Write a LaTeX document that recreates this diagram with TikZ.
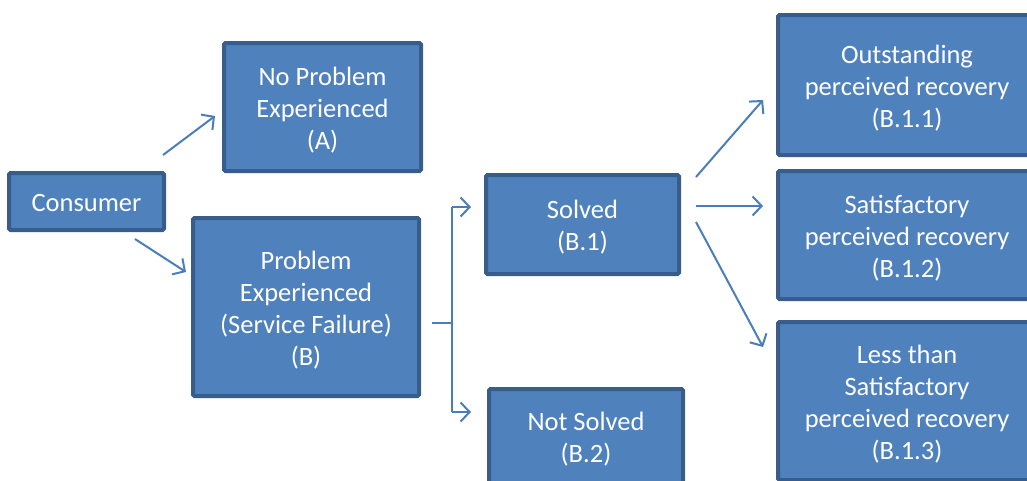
\documentclass[tikz,border=0pt]{standalone}
\usepackage{fontspec}
\setmainfont{Carlito}
\usetikzlibrary{arrows.meta,calc}
\definecolor{boxfill}{HTML}{4F81BD}
\definecolor{boxline}{HTML}{385D8A}
\definecolor{arrowcol}{HTML}{4A7EBB}
\newcommand{\bxtext}[1]{\raisebox{-4pt}[\height][\depth]{\begin{tabular}{@{}c@{}}#1\end{tabular}}}
\tikzset{
  boxnode/.style={draw=boxline, fill=boxfill, line width=4pt, rounded corners=1.5pt,
    text=white, inner sep=0pt,
    font=\fontsize{26.5}{32}\selectfont},
  conn/.style={draw=arrowcol, line width=2pt},
  arr/.style={conn, -{Straight Barb[length=9pt,width=19pt,line width=2pt]}},
}
\begin{document}
\begin{tikzpicture}[x=1pt,y=-1pt]
\useasboundingbox (0,0) rectangle (1027,480);
\clip (0,0) rectangle (1027,480);
\node[boxnode, minimum width=155pt, minimum height=57pt] (cons) at (86.5,201.5) {\bxtext{Consumer}};
\node[boxnode, minimum width=197pt, minimum height=128pt] (nop) at (322.5,107) {\bxtext{No Problem\\Experienced\\(A)}};
\node[boxnode, minimum width=226pt, minimum height=178pt] (prob) at (306,307) {\bxtext{Problem\\Experienced\\(Service Failure)\\(B)}};
\node[boxnode, minimum width=193pt, minimum height=99pt] (solved) at (582.5,224.5) {\bxtext{Solved\\(B.1)}};
\node[boxnode, minimum width=194pt, minimum height=94pt, anchor=west] (nots) at (487,436) {\bxtext{Not Solved\\(B.2)}};
\node[boxnode, minimum width=258pt, minimum height=140pt, anchor=west] (out) at (776,85) {\bxtext{Outstanding\\perceived recovery\\(B.1.1)}};
\node[boxnode, minimum width=258pt, minimum height=128pt, anchor=west] (sat) at (776,235) {\bxtext{Satisfactory\\perceived recovery\\(B.1.2)}};
\node[boxnode, minimum width=258pt, minimum height=158pt, anchor=west] (less) at (776,401) {\bxtext{Less than\\Satisfactory\\perceived recovery\\(B.1.3)}};
% connectors
\draw[arr] ($(cons.north east)+(-3,-16)$) -- ($(nop.west)+(-7,9)$);
\draw[arr] ($(cons.south east)+(-31,7)$) -- ($(prob.north west)+(-5,56)$);
\coordinate (j) at ($(prob.east)+(31,16)$);
\coordinate (jt) at ($(j)+(0,-116)$);
\coordinate (jb) at ($(j)+(0,89)$);
\draw[conn] ($(prob.east)+(11,16)$) -- (j);
\draw[conn] (jt) -- (jb);
\draw[arr] (jt) -- ($(solved.west)+(-13,-17.5)$);
\draw[arr] (jb) -- ($(nots.west)+(-16,-24)$);
\draw[arr] ($(solved.east)+(15,-47.5)$) -- ($(out.west)+(-13,15)$);
\draw[arr] ($(solved.east)+(15,-18.5)$) -- ($(sat.west)+(-13,-29)$);
\draw[arr] ($(solved.east)+(15,-2.5)$) -- ($(less.west)+(-13,-54)$);
\end{tikzpicture}
\end{document}
